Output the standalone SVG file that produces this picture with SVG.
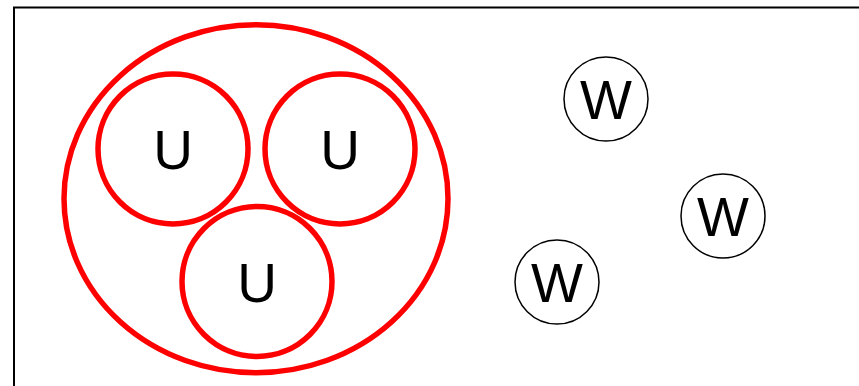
<svg xmlns="http://www.w3.org/2000/svg" width="859" height="386" viewBox="0 0 859 386">
<style>
.u{fill:none;stroke:#ff0000;stroke-width:5.5}
.w{fill:none;stroke:#000;stroke-width:1.5}
.t{font-family:"Liberation Sans",Arial,sans-serif;font-size:55px;fill:#000;text-anchor:middle}
</style>
<rect x="0" y="0" width="859" height="386" fill="#fff"/>
<rect x="14" y="7.5" width="900" height="420" fill="none" stroke="#000" stroke-width="2"/>
<g id="outer"><ellipse class="u" cx="256" cy="198.7" rx="192" ry="174"/></g>
<g id="u1"><circle class="u" cx="173" cy="149" r="75"/><text class="t" x="173" y="169">U</text></g>
<g id="u2"><circle class="u" cx="340" cy="149" r="75"/><text class="t" x="340" y="169">U</text></g>
<g id="u3"><circle class="u" cx="257" cy="281.5" r="75"/><text class="t" x="257" y="302">U</text></g>
<g id="w1"><circle class="w" cx="606" cy="99" r="42"/><text class="t" x="606" y="119">W</text></g>
<g id="w2"><circle class="w" cx="723" cy="216" r="42"/><text class="t" x="723" y="236">W</text></g>
<g id="w3"><circle class="w" cx="557" cy="282" r="42"/><text class="t" x="557" y="302">W</text></g>
<g id="connectors"></g>
</svg>
